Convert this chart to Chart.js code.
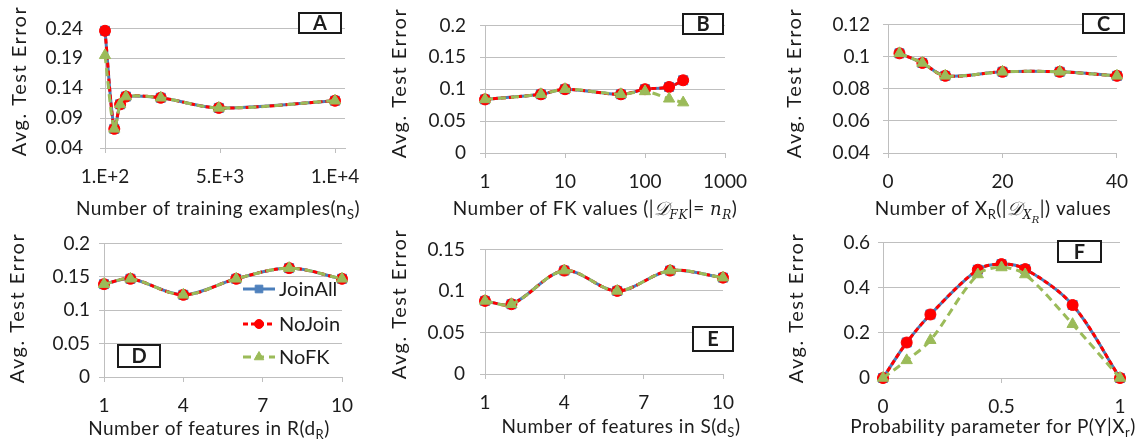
<!DOCTYPE html>
<html>
<head>
<meta charset="utf-8">
<script src="https://cdn.jsdelivr.net/npm/chart.js@4.4.1/dist/chart.umd.min.js"></script>
<style>
    html, body { margin: 0; padding: 0; background: #fff; }
    #wrap { position: relative; width: 1140px; height: 447px; overflow: hidden; }
    #wrap canvas { position: absolute; }
</style>
</head>
<body>
<div id="wrap">
    <canvas id="chartA"></canvas>
    <canvas id="chartB"></canvas>
    <canvas id="chartC"></canvas>
    <canvas id="chartD"></canvas>
    <canvas id="chartE"></canvas>
    <canvas id="chartF"></canvas>
</div>
<script>
(function () {
    'use strict';

    // A: number of training examples
    var aX = [100, 500, 750, 1000, 2500, 5000, 10000];
    var aJoinAll = [0.236, 0.072, 0.113, 0.126, 0.124, 0.107, 0.119];
    var aNoJoin = [0.236, 0.072, 0.113, 0.126, 0.124, 0.107, 0.119];
    var aNoFK = [0.195, 0.072, 0.113, 0.126, 0.124, 0.107, 0.119];
    var aXTicks = [100, 5050, 10000];
    var aYTicks = [0.04, 0.09, 0.14, 0.19, 0.24];

    // B: number of FK values
    var bX = [1, 5, 10, 50, 100, 200, 300];
    var bJoinAll = [0.084, 0.092, 0.1, 0.092, 0.1, 0.1035, 0.114];
    var bNoJoin = [0.084, 0.092, 0.1, 0.092, 0.1, 0.1035, 0.114];
    var bNoFK = [0.084, 0.092, 0.1, 0.092, 0.0965, 0.085, 0.079];
    var bXTicks = [1, 10, 100, 1000];
    var bYTicks = [0, 0.05, 0.1, 0.15, 0.2];

    // C: number of X_R values
    var cX = [2, 6, 10, 20, 30, 40];
    var cJoinAll = [0.102, 0.096, 0.088, 0.0905, 0.0905, 0.088];
    var cNoJoin = [0.102, 0.096, 0.088, 0.0905, 0.0905, 0.088];
    var cNoFK = [0.102, 0.096, 0.088, 0.0905, 0.0905, 0.088];
    var cXTicks = [0, 20, 40];
    var cYTicks = [0.04, 0.06, 0.08, 0.1, 0.12];

    // D: number of features in R
    var dX = [1, 2, 4, 6, 8, 10];
    var dJoinAll = [0.139, 0.147, 0.123, 0.147, 0.163, 0.147];
    var dNoJoin = [0.139, 0.147, 0.123, 0.147, 0.163, 0.147];
    var dNoFK = [0.139, 0.147, 0.123, 0.147, 0.163, 0.147];
    var dXTicks = [1, 4, 7, 10];
    var dYTicks = [0, 0.05, 0.1, 0.15, 0.2];

    // E: number of features in S
    var eX = [1, 2, 4, 6, 8, 10];
    var eJoinAll = [0.088, 0.084, 0.1245, 0.1, 0.1245, 0.116];
    var eNoJoin = [0.088, 0.084, 0.1245, 0.1, 0.1245, 0.116];
    var eNoFK = [0.088, 0.084, 0.1245, 0.1, 0.1245, 0.116];
    var eXTicks = [1, 4, 7, 10];
    var eYTicks = [0, 0.05, 0.1, 0.15];

    // F: probability parameter
    var fX = [0, 0.1, 0.2, 0.4, 0.5, 0.6, 0.8, 1];
    var fJoinAll = [0, 0.157, 0.281, 0.479, 0.504, 0.482, 0.323, 0];
    var fNoJoin = [0, 0.157, 0.281, 0.479, 0.504, 0.482, 0.323, 0];
    var fNoFK = [0, 0.078, 0.167, 0.458, 0.489, 0.458, 0.238, 0];
    var fXTicks = [0, 0.5, 1];
    var fYTicks = [0, 0.2, 0.4, 0.6];

    var seriesNames = ['JoinAll', 'NoJoin', 'NoFK'];
    var yTitle = 'Avg. Test Error';

    var FONT = 'Lato, "Open Sans", sans-serif';
    var MATH = '"DejaVu Serif", serif';
    var TEXT = '#1c1c1c';
    var GRID = '#bfbfbf';

    var styles = [
        { color: '#4a7ebb', fill: '#4f81bd', width: 3, dash: [], point: 'rect', radius: 6.4 },
        { color: '#ff0000', fill: '#ff0000', width: 3, dash: [5, 3], point: 'circle', radius: 5.5 },
        { color: '#9bbb59', fill: '#9bbb59', width: 3, dash: [8, 5], point: 'triangle', radius: 6.5 }
    ];

    function points(xs, ys) {
        return xs.map(function (x, i) {
            return { x: x, y: ys[i] };
        });
    }

    function buildDatasets(xs, lists) {
        return lists.map(function (ys, i) {
            var s = styles[i];
            return {
                label: seriesNames[i],
                data: points(xs, ys),
                borderColor: s.color,
                backgroundColor: s.fill,
                borderWidth: s.width,
                borderDash: s.dash,
                pointStyle: s.point,
                pointRadius: s.radius,
                pointBackgroundColor: s.fill,
                pointBorderColor: s.fill,
                pointBorderWidth: 1,
                tension: 0.33,
                clip: false,
                order: 3 - i
            };
        });
    }

    function fmtPlain(v) {
        return String(Math.round(v * 1000) / 1000);
    }

    function fmtExp(v) {
        return v.toExponential(0).replace('e', '.E');
    }

    function partFont(p) {
        var size = p.s === 'sub' || p.s === 'subi' ? 13 : (p.s === 'subsub' ? 11 : 19);
        if (p.s === 'i' || p.s === 'subi' || p.s === 'subsub') {
            return 'italic ' + (size - 1) + 'px ' + MATH;
        }
        if (p.s === 'script') {
            return 'italic 19px ' + MATH;
        }
        return size + 'px ' + FONT;
    }

    function partShift(p) {
        if (p.s === 'sub' || p.s === 'subi') return 4;
        if (p.s === 'subsub') return 8;
        return 0;
    }

    function drawRich(ctx, parts, cx, baseline) {
        var total = 0;
        var widths = parts.map(function (p) {
            ctx.font = partFont(p);
            var w = ctx.measureText(p.t).width;
            total += w;
            return w;
        });
        var x = cx - total / 2;
        ctx.textAlign = 'left';
        ctx.textBaseline = 'alphabetic';
        parts.forEach(function (p, i) {
            ctx.font = partFont(p);
            ctx.fillText(p.t, x, baseline + partShift(p));
            x += widths[i];
        });
    }

    function decorPlugin(spec) {
        return {
            id: 'decor' + spec.id,
            afterDraw: function (chart) {
                var ctx = chart.ctx;
                ctx.save();
                ctx.fillStyle = TEXT;

                ctx.save();
                ctx.letterSpacing = '1.5px';
                ctx.translate(spec.yTitle[0], spec.yTitle[1]);
                ctx.rotate(-Math.PI / 2);
                ctx.font = '20px ' + FONT;
                ctx.textAlign = 'center';
                ctx.textBaseline = 'middle';
                ctx.fillText(yTitle, 0, 0);
                ctx.restore();

                ctx.save();
                ctx.letterSpacing = '0.5px';
                drawRich(ctx, spec.xTitle, spec.xTitleAt[0], spec.xTitleAt[1]);
                ctx.restore();

                var b = spec.box;
                ctx.fillStyle = '#fff';
                ctx.fillRect(b[0], b[1], b[2], b[3]);
                ctx.strokeStyle = '#1a1a1a';
                ctx.lineWidth = 2;
                ctx.strokeRect(b[0] + 1, b[1] + 1, b[2] - 2, b[3] - 2);
                ctx.fillStyle = TEXT;
                ctx.font = 'bold 20px ' + FONT;
                ctx.textAlign = 'center';
                ctx.textBaseline = 'middle';
                ctx.fillText(spec.id, b[0] + b[2] / 2, b[1] + b[3] / 2 + 1);

                if (spec.legend) {
                    var lg = spec.legend;
                    styles.forEach(function (s, i) {
                        var y = lg.ys[i];
                        ctx.strokeStyle = s.color;
                        ctx.lineWidth = s.width;
                        ctx.setLineDash(s.dash);
                        ctx.beginPath();
                        ctx.moveTo(lg.x1, y);
                        ctx.lineTo(lg.x2, y);
                        ctx.stroke();
                        ctx.setLineDash([]);
                        ctx.fillStyle = s.fill;
                        ctx.strokeStyle = s.fill;
                        ctx.lineWidth = 1;
                        Chart.helpers.drawPoint(ctx, {
                            pointStyle: s.point,
                            radius: s.radius - 1,
                            rotation: 0,
                            borderWidth: 1
                        }, (lg.x1 + lg.x2) / 2, y);
                        ctx.fillStyle = TEXT;
                        ctx.font = '20px ' + FONT;
                        ctx.textAlign = 'left';
                        ctx.textBaseline = 'middle';
                        ctx.fillText(seriesNames[i], lg.tx, y + 1);
                    });
                }
                ctx.restore();
            }
        };
    }

    function createPanel(spec) {
        var canvas = document.getElementById('chart' + spec.id);
        canvas.width = spec.w;
        canvas.height = spec.h;
        canvas.style.left = spec.left + 'px';
        canvas.style.top = spec.top + 'px';
        canvas.style.width = spec.w + 'px';
        canvas.style.height = spec.h + 'px';

        var p = spec.plot;
        var tickFont = { family: FONT, size: 19 };

        return new Chart(canvas, {
            type: 'line',
            data: { datasets: buildDatasets(spec.x, spec.series) },
            options: {
                responsive: false,
                animation: false,
                events: [],
                layout: { padding: { left: 0, top: p.t, right: spec.w - p.r, bottom: 0 } },
                plugins: { legend: { display: false }, tooltip: { enabled: false } },
                scales: {
                    x: {
                        type: spec.xType,
                        min: spec.xTicks[0],
                        max: spec.xMax,
                        afterBuildTicks: function (s) {
                            s.ticks = spec.xTicks.map(function (v) { return { value: v }; });
                        },
                        afterFit: function (s) { s.height = spec.h - p.b; },
                        grid: { drawOnChartArea: false, drawTicks: true, tickLength: 5, color: GRID },
                        border: { display: true, color: GRID, width: 1 },
                        ticks: {
                            font: tickFont, color: TEXT, padding: 12, maxRotation: 0, autoSkip: false,
                            callback: function (v) { return spec.xFmt(v); }
                        }
                    },
                    y: {
                        type: 'linear',
                        min: spec.yTicks[0],
                        max: spec.yTicks[spec.yTicks.length - 1],
                        afterBuildTicks: function (s) {
                            s.ticks = spec.yTicks.map(function (v) { return { value: v }; });
                        },
                        afterFit: function (s) { s.width = p.l; },
                        grid: { drawOnChartArea: true, drawTicks: true, tickLength: 5, color: GRID },
                        border: { display: true, color: GRID, width: 1 },
                        ticks: {
                            font: tickFont, color: TEXT, padding: spec.yPad,
                            callback: function (v) { return fmtPlain(v); }
                        }
                    }
                }
            },
            plugins: [decorPlugin(spec)]
        });
    }

    var panels = [
        {
            id: 'A', left: 0, top: 0, w: 380, h: 223,
            plot: { l: 105, r: 345, t: 13, b: 148 },
            x: aX, series: [aJoinAll, aNoJoin, aNoFK],
            xType: 'linear', xTicks: aXTicks, xMax: 10430, xFmt: fmtExp, yTicks: aYTicks, yPad: 17,
            yTitle: [20, 81],
            xTitle: [{ t: 'Number of training examples(n' }, { t: 'S', s: 'sub' }, { t: ')' }],
            xTitleAt: [218, 215],
            box: [298, 12, 44, 22]
        },
        {
            id: 'B', left: 380, top: 0, w: 380, h: 223,
            plot: { l: 105, r: 345, t: 12, b: 153 },
            x: bX, series: [bJoinAll, bNoJoin, bNoFK],
            xType: 'logarithmic', xTicks: bXTicks, xMax: 1000, xFmt: fmtPlain, yTicks: bYTicks, yPad: 14,
            yTitle: [20, 83],
            xTitle: [
                { t: 'Number of FK values (|' }, { t: '\uD835\uDC9F', s: 'script' }, { t: 'FK', s: 'subi' },
                { t: '|= ' }, { t: 'n', s: 'i' }, { t: 'R', s: 'subi' }, { t: ')' }
            ],
            xTitleAt: [215, 215],
            box: [302, 13, 42, 22]
        },
        {
            id: 'C', left: 760, top: 0, w: 380, h: 223,
            plot: { l: 128, r: 362, t: 12, b: 153 },
            x: cX, series: [cJoinAll, cNoJoin, cNoFK],
            xType: 'linear', xTicks: cXTicks, xMax: 40, xFmt: fmtPlain, yTicks: cYTicks, yPad: 13,
            yTitle: [35, 83],
            xTitle: [
                { t: 'Number of X' }, { t: 'R', s: 'sub' }, { t: '(|' }, { t: '\uD835\uDC9F', s: 'script' },
                { t: 'X', s: 'subi' }, { t: 'R', s: 'subsub' }, { t: '|) values' }
            ],
            xTitleAt: [233, 215],
            box: [322, 13, 43, 21]
        },
        {
            id: 'D', left: 0, top: 223, w: 380, h: 224,
            plot: { l: 104, r: 342, t: 13, b: 154 },
            x: dX, series: [dJoinAll, dNoJoin, dNoFK],
            xType: 'linear', xTicks: dXTicks, xMax: 10, xFmt: fmtPlain, yTicks: dYTicks, yPad: 9,
            yTitle: [18, 85],
            xTitle: [{ t: 'Number of features in R(d' }, { t: 'R', s: 'sub' }, { t: ')' }],
            xTitleAt: [209, 212],
            box: [117, 121, 44, 24],
            legend: { x1: 243, x2: 275, tx: 279, ys: [66, 101, 134] }
        },
        {
            id: 'E', left: 380, top: 223, w: 380, h: 224,
            plot: { l: 105, r: 343, t: 10, b: 151 },
            x: eX, series: [eJoinAll, eNoJoin, eNoFK],
            xType: 'linear', xTicks: eXTicks, xMax: 10, xFmt: fmtPlain, yTicks: eYTicks, yPad: 15,
            yTitle: [20, 81],
            xTitle: [{ t: 'Number of features in S(d' }, { t: 'S', s: 'sub' }, { t: ')' }],
            xTitleAt: [241, 210],
            box: [312, 103, 42, 26]
        },
        {
            id: 'F', left: 760, top: 223, w: 380, h: 224,
            plot: { l: 123, r: 360, t: 14, b: 155 },
            x: fX, series: [fJoinAll, fNoJoin, fNoFK],
            xType: 'linear', xTicks: fXTicks, xMax: 1, xFmt: fmtPlain, yTicks: fYTicks, yPad: 8,
            yTitle: [37, 85],
            xTitle: [{ t: 'Probability parameter for P(Y|X' }, { t: 'r', s: 'sub' }, { t: ')' }],
            xTitleAt: [233, 210],
            box: [297, 17, 45, 23]
        }
    ];

    panels.forEach(createPanel);
})();
</script>
</body>
</html>
